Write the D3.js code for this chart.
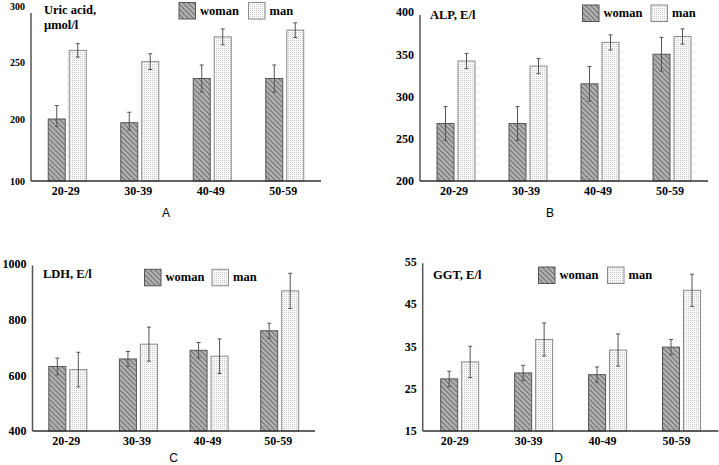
<!DOCTYPE html>
<html><head><meta charset="utf-8">
<script src="https://cdn.jsdelivr.net/npm/d3@7"></script>
<style>
html,body{margin:0;padding:0;background:#fff;}
svg{display:block;}
</style></head>
<body>
<svg id="c" width="719" height="465"></svg>
<script>
// ---- data ----
const categories = ["20-29", "30-39", "40-49", "50-59"];
const seriesNames = ["woman", "man"];

const uricWoman = [200, 194, 236, 236];
const uricWomanErr = [12, 12, 12, 12];
const uricMan = [261, 251, 273, 279];
const uricManErr = [6, 7, 7, 6.5];
const uricTicks = [100, 200, 250, 300];

const alpWoman = [268, 268, 315, 350];
const alpWomanErr = [20, 20, 20.5, 20];
const alpMan = [342, 336, 364, 371];
const alpManErr = [9, 9, 9, 9];
const alpTicks = [200, 250, 300, 350, 400];

const ldhWoman = [631, 658, 689, 759];
const ldhWomanErr = [30, 27, 28, 27];
const ldhMan = [620, 711, 668, 902];
const ldhManErr = [62, 61, 62, 63];
const ldhTicks = [400, 600, 800, 1000];

const ggtWoman = [27.3, 28.7, 28.3, 34.8];
const ggtWomanErr = [1.8, 1.8, 1.8, 1.8];
const ggtMan = [31.3, 36.6, 34.1, 48.2];
const ggtManErr = [3.7, 3.9, 3.8, 3.8];
const ggtTicks = [15, 25, 35, 45, 55];

const titles = [["Uric acid,", "µmol/l"], ["ALP, E/l"], ["LDH, E/l"], ["GGT, E/l"]];
const panelLetters = ["A", "B", "C", "D"];

// ---- layout ----
const panels = [
  {w: uricWoman, we: uricWomanErr, m: uricMan, me: uricManErr, ticks: uricTicks,
   domain: [100, 200, 300], range: [181, 119, 6.5], x0: 31, x1: 321, axisTop: 13, tickFs: 10,
   title: {x: 44, y: 10}, legend: {x: 179, y: 2.5, mx: 248.5}, letter: {x: 166, y: 212.5}, labDx: -1.5},
  {w: alpWoman, we: alpWomanErr, m: alpMan, me: alpManErr, ticks: alpTicks,
   domain: [200, 400], range: [181, 12], x0: 420, x1: 708, axisTop: 15, tickFs: 12,
   title: {x: 430, y: 15}, legend: {x: 582.5, y: 5, mx: 651}, letter: {x: 550, y: 212.5}, labDx: -2},
  {w: ldhWoman, we: ldhWomanErr, m: ldhMan, me: ldhManErr, ticks: ldhTicks,
   domain: [400, 1000], range: [431, 263.5], x0: 32.5, x1: 315, axisTop: 265.5, tickFs: 12,
   title: {x: 43, y: 273.5}, legend: {x: 144.5, y: 269.3, mx: 212}, letter: {x: 173.5, y: 457.5}, labDx: -1.5},
  {w: ggtWoman, we: ggtWomanErr, m: ggtMan, me: ggtManErr, ticks: ggtTicks,
   domain: [15, 55], range: [431, 261.5], x0: 422.7, x1: 718.5, axisTop: 263.3, tickFs: 12,
   title: {x: 433, y: 275}, legend: {x: 538.5, y: 267, mx: 607.5}, letter: {x: 558.5, y: 457.5}, labDx: -5}
];

const svg = d3.select("#c");
const defs = svg.append("defs");

// woman pattern: gray checker + fine diagonal stripes
const pw = defs.append("pattern").attr("id", "pWoman").attr("patternUnits", "userSpaceOnUse")
  .attr("width", 5).attr("height", 5);
pw.append("rect").attr("width", 5).attr("height", 5).attr("fill", "#a4a4a4");
for (let i = 0; i < 5; i++) for (let j = 0; j < 5; j++) {
  if ((i + j) % 2 === 0) pw.append("rect").attr("x", i).attr("y", j).attr("width", 1).attr("height", 1).attr("fill", "#bdbdbd");
}
pw.append("path").attr("d", "M-1,-1 L6,6 M-3,2 L3,8 M2,-3 L8,3").attr("stroke", "#767676").attr("stroke-width", 1.1);

// man pattern: light dots
const pm = defs.append("pattern").attr("id", "pMan").attr("patternUnits", "userSpaceOnUse")
  .attr("width", 2).attr("height", 2);
pm.append("rect").attr("width", 2).attr("height", 2).attr("fill", "#fbfbfb");
pm.append("rect").attr("x", 0).attr("y", 0).attr("width", 1).attr("height", 1).attr("fill", "#c9c9c9");

const fills = {woman: "url(#pWoman)", man: "url(#pMan)"};
const strokes = {woman: "#555", man: "#8a8a8a"};
const serif = "'Liberation Serif','Times New Roman',serif";

panels.forEach((p, pi) => {
  const g = svg.append("g");
  const y = d3.scaleLinear().domain(p.domain).range(p.range);
  const x = d3.scaleBand().domain(categories).range([p.x0, p.x1]).padding(0);
  const xs = d3.scaleBand().domain(seriesNames).range([-19, 19]).paddingInner(4 / 21).paddingOuter(0);
  const base = y(p.domain[0]);

  const rows = categories.map((c, i) => [
    {c, s: "woman", v: p.w[i], e: p.we[i]},
    {c, s: "man", v: p.m[i], e: p.me[i]}
  ]).flat();

  // bars
  g.selectAll("rect.bar").data(rows).join("rect").attr("class", "bar")
    .attr("x", d => x(d.c) + x.bandwidth() / 2 + xs(d.s))
    .attr("width", xs.bandwidth())
    .attr("y", d => y(d.v))
    .attr("height", d => base - y(d.v))
    .attr("fill", d => fills[d.s])
    .attr("stroke", d => strokes[d.s]).attr("stroke-width", 1);

  // error bars
  const ex = d => x(d.c) + x.bandwidth() / 2 + xs(d.s) + xs.bandwidth() / 2;
  g.selectAll("path.err").data(rows).join("path").attr("class", "err")
    .attr("d", d => {
      const cx = ex(d), t = y(d.v + d.e), b = y(d.v - d.e);
      return `M${cx},${t}V${b}M${cx - 2},${t}H${cx + 2}M${cx - 2},${b}H${cx + 2}`;
    })
    .attr("stroke", "#555").attr("stroke-width", 1).attr("fill", "none");

  // y axis
  const yAxis = d3.axisLeft(y).tickValues(p.ticks).tickSize(0).tickPadding(0).tickFormat(d3.format("d"));
  const ya = g.append("g").attr("transform", `translate(${p.x0 - 6},0)`).call(yAxis);
  ya.select(".domain").remove();
  ya.selectAll("text").attr("font-family", serif).attr("font-weight", "bold")
    .attr("font-size", p.tickFs).attr("fill", "#000");
  g.append("line").attr("x1", p.x0).attr("x2", p.x0).attr("y1", p.axisTop).attr("y2", base)
    .attr("stroke", "#555").attr("stroke-width", 1.5);

  // x axis
  const xAxis = d3.axisBottom(x).tickSize(0).tickPadding(5);
  const xa = g.append("g").attr("transform", `translate(0,${base})`).call(xAxis);
  xa.select(".domain").remove();
  xa.selectAll("text").attr("font-family", serif).attr("font-weight", "bold")
    .attr("font-size", 12).attr("fill", "#000").attr("dx", p.labDx);
  g.append("line").attr("x1", p.x0).attr("x2", p.x1).attr("y1", base).attr("y2", base)
    .attr("stroke", "#333").attr("stroke-width", 1.5);

  // title
  titles[pi].forEach((t, k) => {
    g.append("text").attr("x", p.title.x).attr("y", p.title.y + k * 15)
      .attr("dominant-baseline", "central").attr("font-family", serif).attr("font-weight", "bold")
      .attr("font-size", 12.5).attr("fill", "#000").text(t);
  });

  // legend
  const lx = [p.legend.x, p.legend.mx];
  seriesNames.forEach((s, k) => {
    g.append("rect").attr("x", lx[k]).attr("y", p.legend.y).attr("width", 16.5).attr("height", 16.5)
      .attr("fill", fills[s]).attr("stroke", strokes[s]).attr("stroke-width", 1);
    g.append("text").attr("x", lx[k] + 21).attr("y", p.legend.y + 8)
      .attr("dominant-baseline", "central").attr("font-family", serif).attr("font-weight", "bold")
      .attr("font-size", 12.5).attr("fill", "#000").text(s);
  });

  // panel letter
  g.append("text").attr("x", p.letter.x).attr("y", p.letter.y).attr("text-anchor", "middle")
    .attr("dominant-baseline", "central").attr("font-family", "'Liberation Sans',Arial,sans-serif")
    .attr("font-size", 12).attr("fill", "#000").text(panelLetters[pi]);
});
</script>
</body></html>
